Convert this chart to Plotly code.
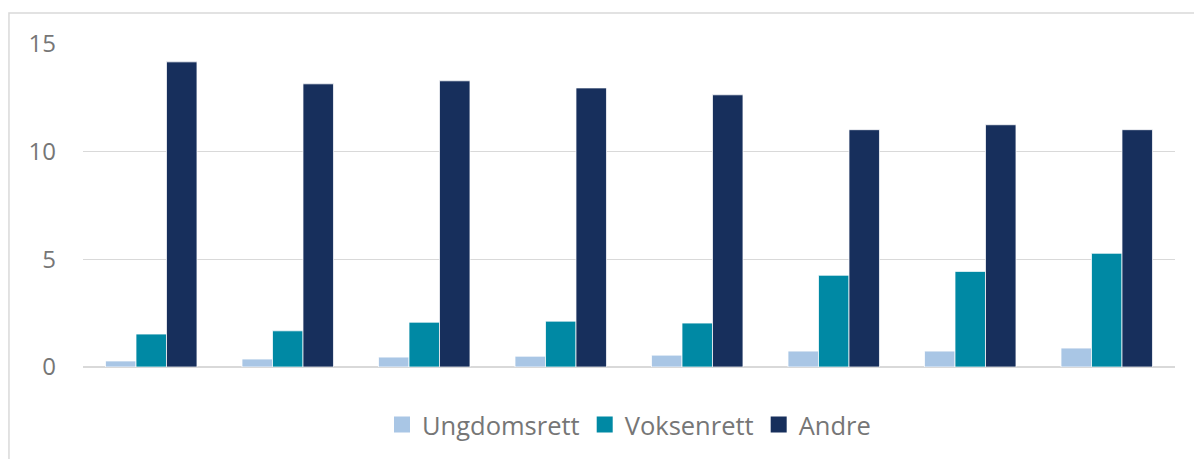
import plotly.graph_objects as go

categories = ['1', '2', '3', '4', '5', '6', '7', '8']
ungdomsrett = [0.28, 0.37, 0.46, 0.50, 0.55, 0.74, 0.74, 0.88]
voksenrett = [1.53, 1.68, 2.08, 2.13, 2.04, 4.26, 4.44, 5.28]
andre = [14.17, 13.15, 13.29, 12.96, 12.64, 11.02, 11.25, 11.02]

series = [
    ('Ungdomsrett', ungdomsrett, '#A9C6E5'),
    ('Voksenrett', voksenrett, '#0089A4'),
    ('Andre', andre, '#172F5C'),
]

fig = go.Figure()
for name, vals, color in series:
    fig.add_trace(go.Bar(
        x=categories,
        y=vals,
        name=name,
        marker_color=color,
        marker_line=dict(color='white', width=0.75),
        showlegend=False,
    ))
# legend entries with bigger square swatches
for name, vals, color in series:
    fig.add_trace(go.Scatter(
        x=[None], y=[None], mode='markers', name=name,
        marker=dict(symbol='square', size=18, color=color),
    ))

fig.update_layout(
    width=1194,
    height=451,
    barmode='group',
    bargap=0.33,
    bargroupgap=0,
    plot_bgcolor='white',
    paper_bgcolor='white',
    margin=dict(l=75, r=27, t=36, b=91),
    font=dict(family='Open Sans', size=24, color='#767676'),
    legend=dict(
        orientation='h',
        x=0.5, xanchor='center',
        y=-0.176, yanchor='middle',
        font=dict(size=25.5, color='#767676'),
        itemwidth=30,
    ),
)
fig.update_xaxes(showticklabels=False, showgrid=False, showline=False, ticks='')
fig.update_yaxes(
    range=[0, 15],
    tickvals=[0, 5, 10, 15],
    showgrid=True,
    gridcolor='#D9D9D9',
    gridwidth=1,
    zeroline=True,
    zerolinecolor='#D9D9D9',
    zerolinewidth=1.5,
    showline=False,
    ticks='',
    ticklabelstandoff=26,
    tickfont=dict(size=24, color='#767676'),
)
# outer chart border (Excel chart area)
fig.add_shape(type='rect', xref='paper', yref='paper',
              x0=-0.0678, x1=1.2, y0=-0.5, y1=1.0957,
              line=dict(color='#D9D9D9', width=1.5), layer='below')

fig.write_html('out.html')
